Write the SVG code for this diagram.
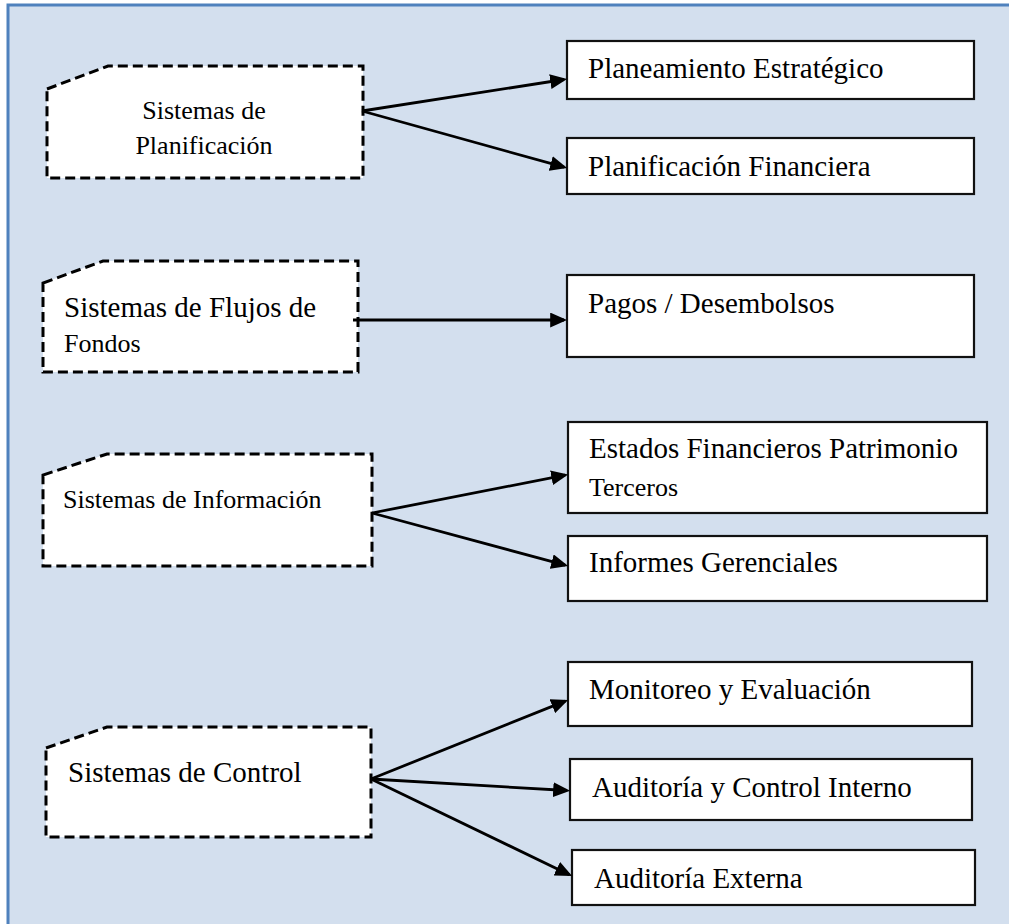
<svg xmlns="http://www.w3.org/2000/svg" width="1009" height="924" viewBox="0 0 1009 924">
  <style>
    .frame { fill: #d3dfee; stroke: #4f81bd; stroke-width: 3; }
    .sys { fill: #ffffff; stroke: #000000; stroke-width: 3; stroke-dasharray: 10 5; }
    .box { fill: #ffffff; stroke: #111111; stroke-width: 2.2; }
    .lbl { font-family: "Liberation Serif", "Times New Roman", serif; fill: #000000; font-size: 29px; }
    .sm { font-size: 26px; }
    .mid { text-anchor: middle; }
    .conn line { stroke: #000000; stroke-width: 2.8; marker-end: url(#arrow); }
  </style>
  <defs>
    <marker id="arrow" markerUnits="userSpaceOnUse" markerWidth="17" markerHeight="15" refX="13" refY="7" orient="auto" viewBox="0 0 16 14">
      <path d="M0,0 L16,7 L0,14 z" fill="#000000"/>
    </marker>
  </defs>

  <!-- background panel -->
  <rect class="frame" x="8" y="5" width="1010" height="930"/>

  <!-- left column: systems -->
  <g id="sistemas-planificacion">
    <path class="sys" d="M47,89 L108,66 L363,66 L363,178 L47,178 Z"/>
    <text class="lbl sm mid" x="204" y="119">Sistemas de</text>
    <text class="lbl sm mid" x="204" y="154">Planificación</text>
  </g>
  <g id="sistemas-flujos">
    <path class="sys" d="M43,283 L103,261 L358,261 L358,372 L43,372 Z"/>
    <text class="lbl" x="64" y="317">Sistemas de Flujos de</text>
    <text class="lbl sm" x="64" y="352">Fondos</text>
  </g>
  <g id="sistemas-informacion">
    <path class="sys" d="M43,475 L107,454 L372,454 L372,566 L43,566 Z"/>
    <text class="lbl sm" x="63" y="508">Sistemas de Información</text>
  </g>
  <g id="sistemas-control">
    <path class="sys" d="M46,748 L107,727 L371,727 L371,837 L46,837 Z"/>
    <text class="lbl" x="68" y="782">Sistemas de Control</text>
  </g>

  <!-- right column: outputs -->
  <g id="planeamiento">
    <rect class="box" x="567" y="41" width="407" height="58"/>
    <text class="lbl" x="588" y="78">Planeamiento Estratégico</text>
  </g>
  <g id="planificacion-financiera">
    <rect class="box" x="567" y="138" width="407" height="56"/>
    <text class="lbl" x="588" y="176">Planificación Financiera</text>
  </g>
  <g id="pagos">
    <rect class="box" x="567" y="275" width="407" height="82"/>
    <text class="lbl" x="588" y="313">Pagos / Desembolsos</text>
  </g>
  <g id="estados-financieros">
    <rect class="box" x="568" y="422" width="419" height="91"/>
    <text class="lbl" x="589" y="458">Estados Financieros Patrimonio</text>
    <text class="lbl sm" x="589" y="496">Terceros</text>
  </g>
  <g id="informes">
    <rect class="box" x="568" y="536" width="419" height="65"/>
    <text class="lbl" x="589" y="572">Informes Gerenciales</text>
  </g>
  <g id="monitoreo">
    <rect class="box" x="568" y="662" width="404" height="64"/>
    <text class="lbl" x="589" y="699">Monitoreo y Evaluación</text>
  </g>
  <g id="auditoria-interna">
    <rect class="box" x="570" y="759" width="402" height="61"/>
    <text class="lbl" x="592" y="797">Auditoría y Control Interno</text>
  </g>
  <g id="auditoria-externa">
    <rect class="box" x="572" y="850" width="403" height="55"/>
    <text class="lbl" x="594" y="888">Auditoría Externa</text>
  </g>

  <!-- connectors -->
  <g id="connectors" class="conn">
    <line x1="362" y1="111" x2="564" y2="79.5"/>
    <line x1="362" y1="111" x2="564.1" y2="167.2"/>
    <line x1="353" y1="320" x2="564" y2="320"/>
    <line x1="372" y1="513" x2="565.1" y2="475.1"/>
    <line x1="372" y1="513" x2="565.1" y2="565.2"/>
    <line x1="371" y1="779" x2="565.2" y2="701.1"/>
    <line x1="371" y1="779" x2="567" y2="790.5"/>
    <line x1="371" y1="779" x2="569.3" y2="874.7"/>
  </g>
</svg>
